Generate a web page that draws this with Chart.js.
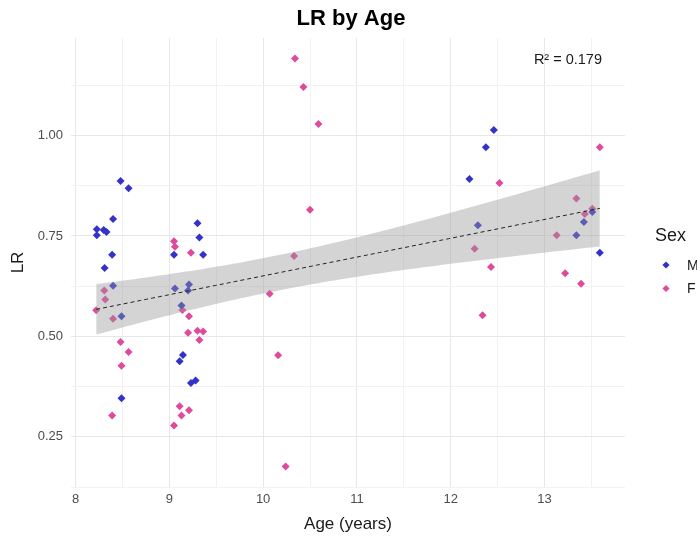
<!DOCTYPE html>
<html>
<head>
<meta charset="utf-8">
<title>LR by Age</title>
<script src="https://cdn.jsdelivr.net/npm/chart.js@4.4.1/dist/chart.umd.min.js"></script>
<style>
  html, body { margin: 0; padding: 0; background: #fff; }
  canvas { display: block; }
</style>
</head>
<body>
<canvas id="lrChart" width="697" height="539"></canvas>
<script>
// Observations by sex
const maleAge = [8.48, 8.565, 8.40, 8.227, 8.227, 8.30, 8.33, 8.39, 8.31, 8.40, 8.49, 8.49,
                 9.30, 9.32, 9.05, 9.36, 9.06, 9.21, 9.20, 9.13, 9.145, 9.11, 9.23, 9.28,
                 12.46, 12.375, 12.20, 12.29, 13.34, 13.42, 13.51, 13.59];
const maleLR = [0.887, 0.869, 0.792, 0.767, 0.752, 0.765, 0.760, 0.703, 0.670, 0.626, 0.550, 0.346,
                0.782, 0.746, 0.703, 0.703, 0.619, 0.629, 0.614, 0.577, 0.454, 0.438, 0.384, 0.390,
                1.014, 0.971, 0.892, 0.777, 0.752, 0.785, 0.810, 0.708];

const femaleAge = [8.306, 8.317, 8.22, 8.40, 8.48, 8.565, 8.49, 8.39,
                   9.05, 9.06, 9.23, 9.14, 9.21, 9.20, 9.30, 9.36, 9.32, 9.11, 9.13, 9.21, 9.05,
                   10.34, 10.43, 10.59, 10.50, 10.33, 10.07, 10.16, 10.24,
                   13.59, 12.52, 13.34, 13.43, 13.51, 13.13, 12.255, 12.43, 13.22, 13.39, 12.34];
const femaleLR = [0.614, 0.592, 0.565, 0.544, 0.486, 0.461, 0.427, 0.303,
                  0.737, 0.723, 0.708, 0.566, 0.550, 0.509, 0.514, 0.512, 0.491, 0.326, 0.303, 0.316, 0.278,
                  1.192, 1.121, 1.029, 0.815, 0.700, 0.606, 0.453, 0.176,
                  0.971, 0.882, 0.843, 0.805, 0.818, 0.752, 0.718, 0.673, 0.657, 0.631, 0.553];

const xTicks = [8, 8.5, 9, 9.5, 10, 10.5, 11, 11.5, 12, 12.5, 13, 13.5];
const yTicks = [0.125, 0.25, 0.375, 0.5, 0.625, 0.75, 0.875, 1.0, 1.125];
const sexLabels = ['M', 'F'];
const sexColors = ['#3333C9', '#DF4A9C'];
const titleText = 'LR by Age';
const r2Label = 'R\u00B2 = 0.179';

const FONT = '"Liberation Sans", Arial, sans-serif';

// Linear fit over all observations, with a 95% confidence band
const allAge = maleAge.concat(femaleAge);
const allLR = maleLR.concat(femaleLR);
const n = allAge.length;
const meanX = allAge.reduce((a, b) => a + b, 0) / n;
const meanY = allLR.reduce((a, b) => a + b, 0) / n;
let sxx = 0, sxy = 0;
for (let i = 0; i < n; i++) {
  sxx += (allAge[i] - meanX) ** 2;
  sxy += (allAge[i] - meanX) * (allLR[i] - meanY);
}
const slope = sxy / sxx;
const intercept = meanY - slope * meanX;
let sse = 0;
for (let i = 0; i < n; i++) sse += (allLR[i] - (intercept + slope * allAge[i])) ** 2;
const sigma = Math.sqrt(sse / (n - 2));
const tCrit = 1.994; // t(0.975, df = 70)

const minAge = Math.min(...allAge), maxAge = Math.max(...allAge);
const minLR = Math.min(...allLR), maxLR = Math.max(...allLR);

const bandLow = [], bandHigh = [], fitLine = [];
const steps = 80;
for (let k = 0; k <= steps; k++) {
  const xv = minAge + (maxAge - minAge) * k / steps;
  const yv = intercept + slope * xv;
  const half = tCrit * sigma * Math.sqrt(1 / n + (xv - meanX) ** 2 / sxx);
  bandLow.push({ x: xv, y: yv - half });
  bandHigh.push({ x: xv, y: yv + half });
  fitLine.push({ x: xv, y: yv });
}

// ggplot-style 5% expansion around the data
const xPad = (maxAge - minAge) * 0.05;
const yPad = (maxLR - minLR) * 0.05;

const toPoints = (xs, ys) => xs.map((v, i) => ({ x: v, y: ys[i] }));

// Title, legend and R² note are painted directly on the canvas
const sideNotes = {
  id: 'sideNotes',
  afterDraw(chart) {
    const { ctx, scales: { x, y }, chartArea } = chart;
    ctx.save();
    ctx.textBaseline = 'middle';
    ctx.textAlign = 'center';

    ctx.fillStyle = '#000';
    ctx.font = 'bold 22px ' + FONT;
    ctx.fillText(titleText, (chartArea.left + chartArea.right) / 2 + 3, 19);

    ctx.fillStyle = '#1A1A1A';
    ctx.font = '14.5px ' + FONT;
    ctx.fillText(r2Label, x.getPixelForValue(13.25), y.getPixelForValue(1.188));

    const lx = chartArea.right + 30;
    ctx.textAlign = 'left';
    ctx.font = '18px ' + FONT;
    ctx.fillText('Sex', lx, 236);
    ctx.font = '14px ' + FONT;
    sexLabels.forEach((lab, i) => {
      const cx = lx + 11, cy = 265 + i * 23.5, r = 3.6;
      ctx.fillStyle = sexColors[i];
      ctx.beginPath();
      ctx.moveTo(cx, cy - r);
      ctx.lineTo(cx + r, cy);
      ctx.lineTo(cx, cy + r);
      ctx.lineTo(cx - r, cy);
      ctx.closePath();
      ctx.fill();
      ctx.fillStyle = '#1A1A1A';
      ctx.fillText(lab, lx + 32, cy + 1);
    });
    ctx.restore();
  }
};

const ctx = document.getElementById('lrChart');
new Chart(ctx, {
  type: 'scatter',
  data: {
    datasets: [
      {
        label: sexLabels[0],
        data: toPoints(maleAge, maleLR),
        backgroundColor: sexColors[0],
        borderWidth: 0,
        pointStyle: 'rectRot',
        pointRadius: 4,
        order: 3
      },
      {
        label: sexLabels[1],
        data: toPoints(femaleAge, femaleLR),
        backgroundColor: sexColors[1],
        borderWidth: 0,
        pointStyle: 'rectRot',
        pointRadius: 4,
        order: 3
      },
      {
        label: 'band low',
        type: 'line',
        data: bandLow,
        borderWidth: 0,
        pointRadius: 0,
        fill: false,
        order: 2
      },
      {
        label: 'band high',
        type: 'line',
        data: bandHigh,
        borderWidth: 0,
        pointRadius: 0,
        backgroundColor: 'rgba(153,153,153,0.42)',
        fill: 2,
        order: 2
      },
      {
        label: 'fit',
        type: 'line',
        data: fitLine,
        borderColor: '#222222',
        borderWidth: 1,
        borderDash: [4, 3],
        pointRadius: 0,
        fill: false,
        order: 1
      }
    ]
  },
  options: {
    responsive: false,
    animation: false,
    layout: { padding: { left: 0, right: 72, top: 38, bottom: 0 } },
    plugins: {
      legend: { display: false },
      tooltip: { enabled: false },
      filler: { drawTime: 'beforeDatasetDraw' }
    },
    scales: {
      x: {
        type: 'linear',
        min: minAge - xPad,
        max: maxAge + xPad,
        afterBuildTicks: (scale) => { scale.ticks = xTicks.map(v => ({ value: v })); },
        afterFit: (scale) => { scale.height = 52; },
        grid: {
          color: (c) => Number.isInteger(c.tick.value) ? '#E8E8E8' : '#F2F2F2',
          lineWidth: 1,
          drawTicks: false
        },
        border: { display: false },
        ticks: {
          color: '#4D4D4D',
          font: { family: FONT, size: 13 },
          padding: 5,
          autoSkip: false,
          maxRotation: 0,
          callback: (v) => Number.isInteger(v) ? String(v) : ''
        },
        title: {
          display: true,
          text: 'Age (years)',
          color: '#1A1A1A',
          font: { family: FONT, size: 17 },
          padding: { top: 0, bottom: 4 }
        }
      },
      y: {
        type: 'linear',
        min: minLR - yPad,
        max: maxLR + yPad,
        afterBuildTicks: (scale) => { scale.ticks = yTicks.map(v => ({ value: v })); },
        afterFit: (scale) => { scale.width = 71; },
        grid: {
          color: (c) => (Math.round(c.tick.value * 1000) % 250 === 0) ? '#E8E8E8' : '#F2F2F2',
          lineWidth: 1,
          drawTicks: false
        },
        border: { display: false },
        ticks: {
          color: '#4D4D4D',
          font: { family: FONT, size: 13 },
          padding: 8,
          autoSkip: false,
          callback: (v) => (Math.round(v * 1000) % 250 === 0) ? v.toFixed(2) : ''
        },
        title: {
          display: true,
          text: 'LR',
          color: '#1A1A1A',
          font: { family: FONT, size: 17 },
          padding: { top: 8, bottom: 0 }
        }
      }
    }
  },
  plugins: [sideNotes]
});
</script>
</body>
</html>
